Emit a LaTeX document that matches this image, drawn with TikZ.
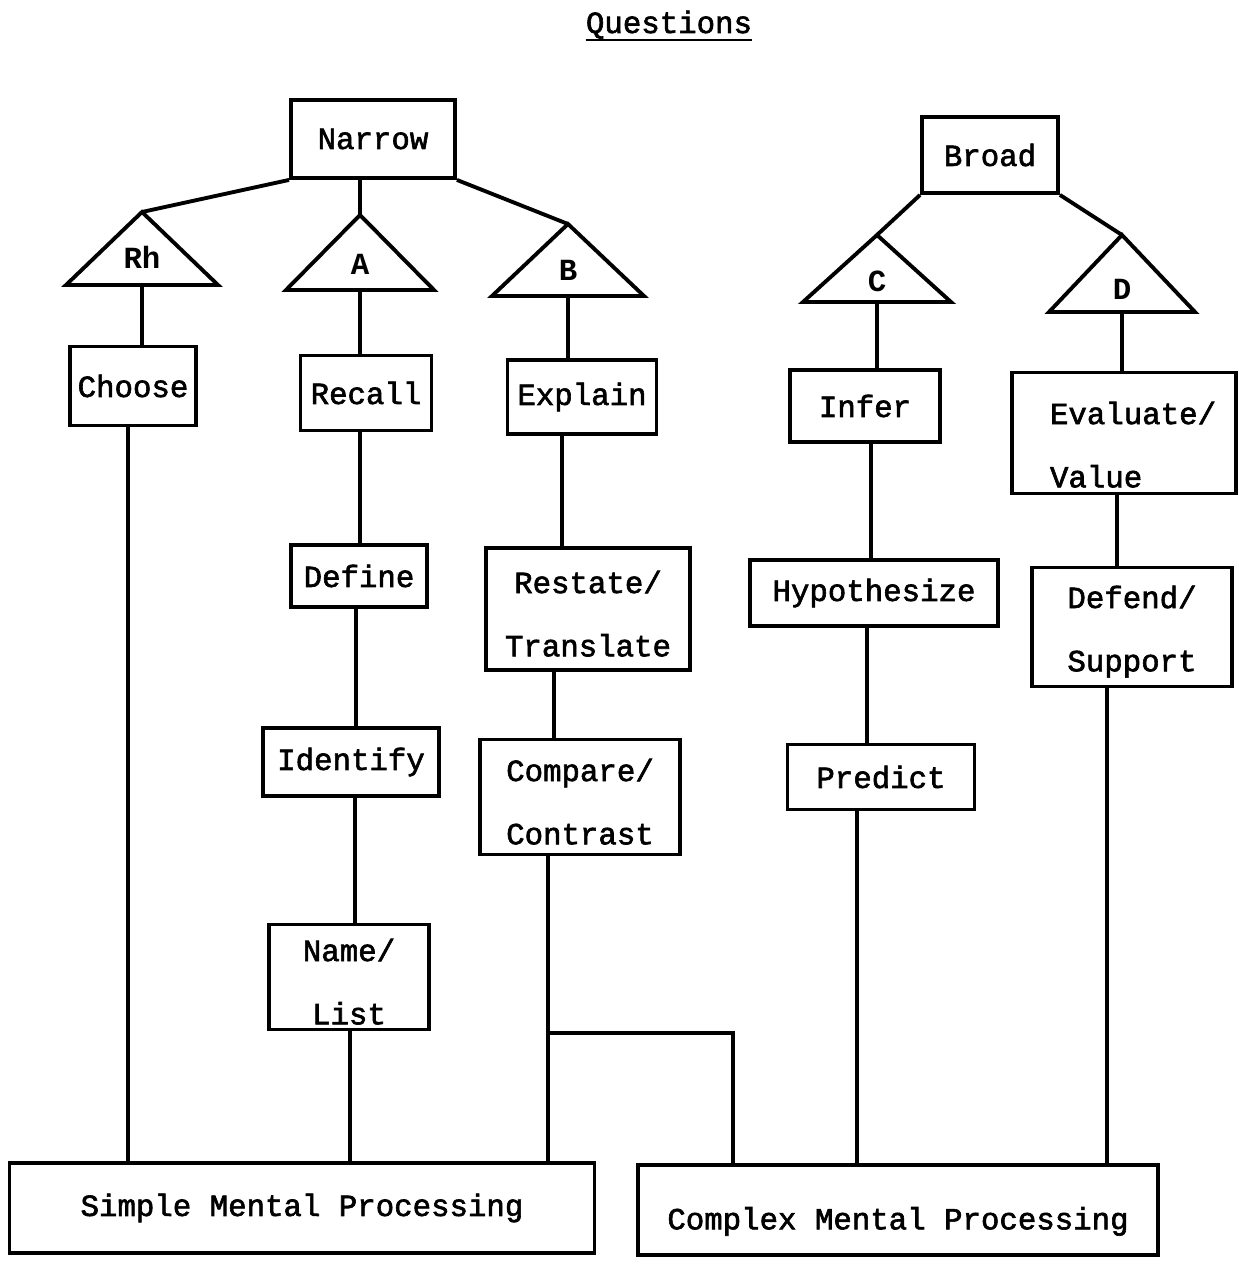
\documentclass[tikz,border=0pt]{standalone}
\usepackage{fontspec}
\newfontfamily\tw[FakeBold=2]{Liberation Mono}
\newfontfamily\twb{Liberation Mono Bold}
\usetikzlibrary{calc}
\tikzset{
  box/.style={draw, line width=2.2pt, inner sep=0pt, align=center, font=\tw\fontsize{17.5}{36}\selectfont},
  conn/.style={line width=2.2pt},
  tri/.style={draw, line width=2.2pt, line join=miter},
  lbl/.style={font=\twb\fontsize{17.5}{20}\selectfont, inner sep=0pt}
}
\newcommand{\mytri}[7]{%
  \draw[tri] (#2-#5,#4) -- (#2,#3) -- (#2+#5,#4) -- cycle;
  \coordinate (#1top) at (#2,#3);
  \coordinate (#1) at (#2,#4);
  \node[lbl] (#1lbl) at (#2,#7) {#6};
}
\newcommand{\lo}{\rule{0pt}{18pt}}
\begin{document}
\begin{tikzpicture}[x=0.02cm,y=-0.02cm]
\useasboundingbox (0,0) rectangle (1238,1264);
% title
\node[font=\tw\fontsize{17.5}{20}\selectfont, inner sep=0pt, anchor=base] (title) at (669,33) {Questions};
\draw[line width=1.6pt] ([yshift=-0.14cm]title.base west) -- ([yshift=-0.14cm]title.base east);
% top boxes
\node[box, minimum width=164*0.02cm, minimum height=78*0.02cm] (narrow) at (373,139) {Narrow};
\node[box, minimum width=136*0.02cm, minimum height=76*0.02cm] (broad) at (990,155) {Broad};
% triangles
\mytri{trR}{142}{212}{285}{76}{Rh}{257}
\mytri{trA}{360}{215}{290}{74}{A}{264}
\mytri{trB}{568}{224}{296}{76}{B}{270}
\mytri{trC}{877}{235}{302}{74}{C}{281}
\mytri{trD}{1122}{235}{312}{73}{D}{289}
% tree lines
\draw[conn] (narrow.south west) -- (trRtop);
\draw[conn] (narrow.south -| trAtop) -- (trAtop);
\draw[conn] (narrow.south east) -- (trBtop);
\draw[conn] (broad.south west) -- (trCtop);
\draw[conn] (broad.south east) -- (trDtop);
% boxes
\node[box, minimum width=126*0.02cm, minimum height=79*0.02cm] (choose) at (133,386) {Choose};
\node[box, minimum width=131*0.02cm, minimum height=75*0.02cm] (recall) at (366,393) {Recall};
\node[box, minimum width=149*0.02cm, minimum height=74*0.02cm] (explain) at (582,397) {Explain};
\node[box, minimum width=150*0.02cm, minimum height=72*0.02cm] (infer) at (865,406) {Infer};
\node[box, minimum width=224*0.02cm, minimum height=121*0.02cm, align=left, text width=148*0.02cm] (evaluate) at (1124,433) {\rule{0pt}{26pt}Evaluate/\\Value};
\node[box, minimum width=136*0.02cm, minimum height=62*0.02cm] (define) at (359,576) {Define};
\node[box, minimum width=204*0.02cm, minimum height=122*0.02cm] (restate) at (588,609) {\lo Restate/\\Translate};
\node[box, minimum width=248*0.02cm, minimum height=66*0.02cm] (hypo) at (874,593) {Hypothesize};
\node[box, minimum width=200*0.02cm, minimum height=119*0.02cm] (defend) at (1132,627) {\lo Defend/\\Support};
\node[box, minimum width=176*0.02cm, minimum height=68*0.02cm] (identify) at (351,762) {Identify};
\node[box, minimum width=200*0.02cm, minimum height=115*0.02cm] (compare) at (580,797) {\lo Compare/\\Contrast};
\node[box, minimum width=187*0.02cm, minimum height=65*0.02cm] (predict) at (881,777) {Predict};
\node[box, minimum width=160*0.02cm, minimum height=105*0.02cm] (name) at (349,977) {\lo Name/\\List};
\node[box, minimum width=585*0.02cm, minimum height=90*0.02cm] (simple) at (302,1208) {Simple Mental Processing};
\node[box, minimum width=520*0.02cm, minimum height=90*0.02cm, text height=22pt, text depth=0pt] (complex) at (898,1210) {Complex Mental Processing};
% column Rh
\draw[conn] (trR) -- (choose.north -| trR);
\draw[conn] ([xshift=-0.1cm]choose.south) -- ([xshift=-0.1cm]choose.south |- simple.north);
% column A
\draw[conn] (trA) -- (recall.north -| trA);
\draw[conn] (recall.south -| trA) -- (define.north -| trA);
\draw[conn] ([xshift=-0.08cm]define.south -| trA) -- ([xshift=-0.08cm]identify.north -| trA);
\draw[conn] ([xshift=-0.1cm]identify.south -| trA) -- ([xshift=-0.1cm]name.north -| trA);
\draw[conn] ([xshift=-0.2cm]name.south -| trA) -- ([xshift=-0.2cm]simple.north -| trA);
% column B
\draw[conn] (trB) -- (explain.north -| trB);
\draw[conn] ([xshift=-0.12cm]explain.south -| trB) -- ([xshift=-0.12cm]restate.north -| trB);
\draw[conn] ([xshift=-0.28cm]restate.south -| trB) -- ([xshift=-0.28cm]compare.north -| trB);
\draw[conn] ([xshift=-0.4cm]compare.south -| trB) -- ([xshift=-0.4cm]simple.north -| trB);
\coordinate (jn) at (548,1033);
\draw[conn] (jn) -| ([xshift=-3.3cm]complex.north);
% column C
\draw[conn] (trC) -- (infer.north -| trC);
\draw[conn] ([xshift=-0.12cm]infer.south -| trC) -- ([xshift=-0.12cm]hypo.north -| trC);
\draw[conn] ([xshift=-0.2cm]hypo.south -| trC) -- ([xshift=-0.2cm]predict.north -| trC);
\draw[conn] ([xshift=-0.4cm]predict.south -| trC) -- ([xshift=-0.4cm]complex.north -| trC);
% column D
\draw[conn] (trD) -- (evaluate.north -| trD);
\draw[conn] ([xshift=-0.1cm]evaluate.south -| trD) -- ([xshift=-0.1cm]defend.north -| trD);
\draw[conn] ([xshift=-0.3cm]defend.south -| trD) -- ([xshift=-0.3cm]complex.north -| trD);
\end{tikzpicture}
\end{document}
